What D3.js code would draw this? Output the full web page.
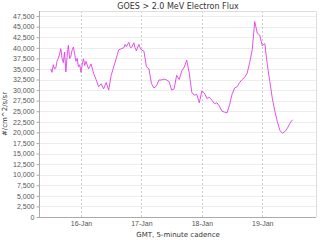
<!DOCTYPE html>
<html>
<head>
<meta charset="utf-8">
<script src="https://cdn.jsdelivr.net/npm/d3@7"></script>
<style>
  body { margin: 0; background: #fff; }
  svg { display: block; font-family: "DejaVu Sans", sans-serif; }
</style>
</head>
<body>
<svg id="chart" width="320" height="240"></svg>
<script>
// GOES > 2.0 MeV electron flux (hours after 15-Jan 12:00 UT)
var startTime = Date.UTC( 2015, 0, 15, 12, 0 );
var hours = [ 0, 0.5, 1, 1.5, 2, 2.5, 3, 3.5, 4, 4.5, 5, 5.5, 6, 6.5, 7, 7.5, 8, 8.5, 9, 9.5,
    10, 10.5, 11, 11.5, 12, 12.5, 13, 13.5, 14, 15, 16, 17, 18, 19,
    20, 21, 22, 23, 24, 25, 26, 26.5, 27, 28, 29, 29.5, 30, 31, 31.5, 32, 33, 33.5, 34, 35, 35.5, 36, 37, 38, 39,
    40, 41, 42, 43, 44, 45, 46, 47, 48, 49, 50, 51, 52, 53, 54, 55, 56, 57, 58, 59,
    60, 61, 62, 63, 64, 65, 66, 67, 68, 69, 70, 71, 72, 73, 74, 75, 76, 77, 78, 79,
    80, 81, 82, 83, 84, 85, 86, 87, 88, 89, 90, 91, 92, 93, 94, 95, 96 ];
var flux = [ 35000, 34200, 36000, 35000, 35200, 36800, 37500, 38500, 39800, 37500,
    36500, 39000, 34300, 38000, 40600, 37500, 38000, 39500, 40200, 38500,
    36800, 37500, 35500, 36000, 34200, 36000, 37400, 35800, 36800, 35000, 36200, 34000, 32500, 30800,
    31500, 30300, 31800, 30000, 33500, 35500, 37500, 38500, 39500, 39800, 40000, 40800,
    40300, 41300, 40200, 40000, 41200, 40000, 39300, 40800, 40000, 39500, 39200, 35500, 35000,
    31500, 30500, 31000, 32400, 32400, 32600, 32400, 32000, 30000, 30300,
    33500, 32500, 34500, 35400, 37100, 34000, 29500, 28800, 29000, 27000,
    29800, 29300, 28000, 28300, 27600, 26800, 27000, 26200, 25000, 24800,
    24600, 26500, 29000, 30500, 30800, 31800, 32500, 33000, 34000, 36500,
    39500, 46200, 43500, 43000, 40500, 41000, 36000, 32000, 28000, 25000,
    22500, 20500, 19800, 20200, 21000, 22200, 23000 ];
var dayTicks = [ '2015-01-16', '2015-01-17', '2015-01-18', '2015-01-19' ];
var fluxTicks = d3.range( 0, 47501, 2500 );

var chartTitle = 'GOES > 2.0 MeV Electron Flux',
    xTitle = 'GMT, 5-minute cadence',
    yTitle = '#/cm^2/s/sr';

(function(){
    var svg = d3.select( '#chart' ),
        pLeft = 39, pRight = 316, pTop = 11, pBottom = 217;

    var x = d3.scaleUtc()
        .domain( [ Date.UTC( 2015, 0, 15, 7, 20 ), Date.UTC( 2015, 0, 19, 21, 20 ) ] )
        .range( [ pLeft, pRight ] );

    var y = d3.scaleLinear()
        .domain( [ 0, 48700 ] )
        .range( [ pBottom, pTop ] );

    var points = hours.map( function( h, i ){
        return { t: new Date( startTime + h * 3600000 ), v: flux[i] };
    });
    var days = dayTicks.map( function( d ){ return new Date( d + 'T00:00:00Z' ); } );

    // horizontal grid
    svg.append( 'g' )
        .selectAll( 'line' )
        .data( fluxTicks.slice( 1 ) )
        .join( 'line' )
        .attr( 'x1', pLeft ).attr( 'x2', pRight )
        .attr( 'y1', function( d ){ return Math.round( y(d) ) + 0.5; } )
        .attr( 'y2', function( d ){ return Math.round( y(d) ) + 0.5; } )
        .attr( 'stroke', '#ededed' );

    // vertical grid (dashed)
    svg.append( 'g' )
        .selectAll( 'line' )
        .data( days )
        .join( 'line' )
        .attr( 'x1', function( d ){ return Math.round( x(d) ) + 0.5; } )
        .attr( 'x2', function( d ){ return Math.round( x(d) ) + 0.5; } )
        .attr( 'y1', pTop ).attr( 'y2', pBottom )
        .attr( 'stroke', '#cccccc' )
        .attr( 'stroke-dasharray', '2,2' );

    // frame top / right
    svg.append( 'path' )
        .attr( 'd', 'M' + pLeft + ',' + ( pTop + 0.5 ) + 'H' + ( pRight + 0.5 ) + 'V' + pBottom )
        .attr( 'fill', 'none' )
        .attr( 'stroke', '#dedede' );

    // axes
    var yAxis = svg.append( 'g' )
        .attr( 'transform', 'translate(' + ( pLeft + 0.5 ) + ',0)' )
        .call( d3.axisLeft( y ).tickValues( fluxTicks ).tickSize( 3 ).tickPadding( 2 )
            .tickFormat( d3.format( ',' ) ) );

    var xAxis = svg.append( 'g' )
        .attr( 'transform', 'translate(0,' + ( pBottom + 0.5 ) + ')' )
        .call( d3.axisBottom( x ).tickValues( days ).tickSize( 0 ).tickPadding( 4 )
            .tickFormat( d3.utcFormat( '%d-%b' ) ) );

    [ yAxis, xAxis ].forEach( function( a ){
        a.select( '.domain' ).attr( 'stroke', '#aaa' );
        a.selectAll( '.tick line' ).attr( 'stroke', '#aaa' );
        a.selectAll( '.tick text' )
            .attr( 'fill', '#555' )
            .style( 'font-size', '7px' );
    });
    yAxis.select( '.domain' ).attr( 'd', 'M0,' + pTop + 'V' + pBottom );
    xAxis.select( '.domain' ).attr( 'd', 'M' + pLeft + ',0H' + pRight );

    // flux line
    svg.append( 'path' )
        .datum( points )
        .attr( 'fill', 'none' )
        .attr( 'stroke', '#e03ee6' )
        .attr( 'stroke-width', 0.9 )
        .attr( 'stroke-linejoin', 'round' )
        .attr( 'd', d3.line()
            .x( function( d ){ return x( d.t ); } )
            .y( function( d ){ return y( d.v ); } ) );

    // titles
    svg.append( 'text' )
        .attr( 'x', 178 ).attr( 'y', 9 )
        .attr( 'text-anchor', 'middle' )
        .attr( 'fill', '#333' )
        .style( 'font-size', '8px' )
        .text( chartTitle );

    svg.append( 'text' )
        .attr( 'x', 178 ).attr( 'y', 237 )
        .attr( 'text-anchor', 'middle' )
        .attr( 'fill', '#333' )
        .style( 'font-size', '7px' )
        .text( xTitle );

    svg.append( 'text' )
        .attr( 'transform', 'translate(7,114) rotate(-90)' )
        .attr( 'text-anchor', 'middle' )
        .attr( 'fill', '#333' )
        .style( 'font-size', '7px' )
        .text( yTitle );
})();
</script>
</body>
</html>
